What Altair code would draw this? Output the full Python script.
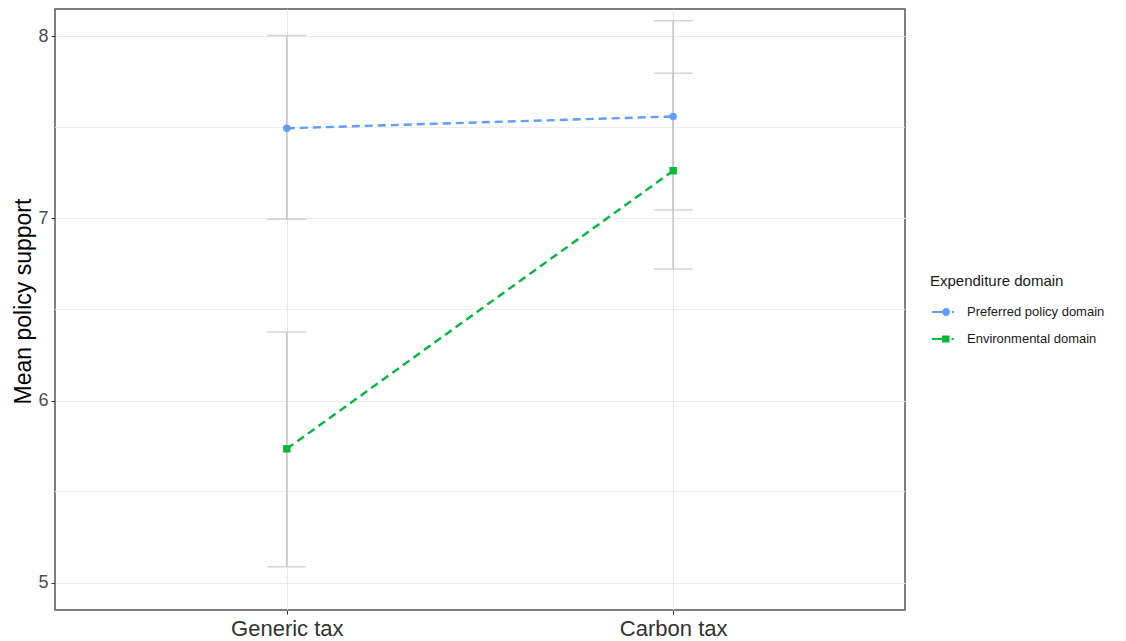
import altair as alt
import pandas as pd

tax_types = ["Generic tax", "Carbon tax"]
domains = ["Preferred policy domain", "Environmental domain"]
pref_mean = [7.495, 7.56]
pref_low = [6.995, 7.046]
pref_high = [8.005, 8.085]
env_mean = [5.735, 7.262]
env_low = [5.088, 6.722]
env_high = [6.377, 7.797]
major_y = [5, 6, 7, 8]
minor_y = [5.5, 6.5, 7.5]
colors = ["#619CFF", "#00BA38"]

rows = []
for i, t in enumerate(tax_types):
    rows.append({"tax": t, "domain": domains[0], "mean": pref_mean[i], "low": pref_low[i], "high": pref_high[i]})
    rows.append({"tax": t, "domain": domains[1], "mean": env_mean[i], "low": env_low[i], "high": env_high[i]})
df = pd.DataFrame(rows)
minor_df = pd.DataFrame({"y": minor_y})

FONT = "Liberation Sans"
W, H = 850, 601

xs = alt.Scale(type="point", domain=tax_types, padding=0.6)
ys = alt.Scale(domain=[4.85, 8.15], nice=False, zero=False)
# reversed order for the legend-less channels so they do not merge with the shown legend
hidden_scale = alt.Scale(domain=domains[::-1], range=colors[::-1])

x_enc = alt.X("tax:N", scale=xs, sort=tax_types,
              axis=alt.Axis(title=None, labelFontSize=22, labelColor="#333333", labelFont=FONT,
                            tickColor="#333333", tickSize=4, labelPadding=4, domain=False,
                            grid=True, gridColor="#ebebeb", gridWidth=1, labelAngle=0))
y_axis = alt.Axis(title="Mean policy support", titleFontSize=23, titleFont=FONT, titleColor="#000000",
                  titleFontWeight="normal", values=major_y, format="d", labelFontSize=18,
                  labelColor="#4d4d4d", labelFont=FONT, tickColor="#333333", tickSize=4,
                  labelPadding=3, domain=False, grid=True, gridColor="#ebebeb", gridWidth=1,
                  titleX=-32, titleY=292, titleAlign="center", titleBaseline="middle", titleAngle=270)

base = alt.Chart(df)

minor = alt.Chart(minor_df).mark_rule(color="#ebebeb", strokeWidth=1).encode(
    y=alt.Y("y:Q", scale=ys, axis=y_axis)
)

err = base.mark_rule(color="#c4c4c4", strokeWidth=1.5).encode(
    x=x_enc,
    y=alt.Y("low:Q", scale=ys, axis=y_axis),
    y2="high:Q",
)
caps_low = base.mark_tick(color="#c4c4c4", thickness=1.5, size=39, orient="horizontal").encode(
    x=alt.X("tax:N", scale=xs, sort=tax_types),
    y=alt.Y("low:Q", scale=ys),
)
caps_high = base.mark_tick(color="#c4c4c4", thickness=1.5, size=39, orient="horizontal").encode(
    x=alt.X("tax:N", scale=xs, sort=tax_types),
    y=alt.Y("high:Q", scale=ys),
)

lines = base.mark_line(strokeWidth=2.4, strokeDash=[8, 5]).encode(
    x=alt.X("tax:N", scale=xs, sort=tax_types),
    y=alt.Y("mean:Q", scale=ys),
    stroke=alt.Stroke("domain:N", scale=hidden_scale, legend=None),
    detail="domain:N",
)

pts_circle = base.transform_filter(alt.datum.domain == domains[0]).mark_point(
    shape="circle", filled=True, size=55, opacity=1, strokeWidth=0).encode(
    x=alt.X("tax:N", scale=xs, sort=tax_types),
    y=alt.Y("mean:Q", scale=ys),
    fill=alt.Fill("domain:N", scale=hidden_scale, legend=None),
)
pts_square = base.transform_filter(alt.datum.domain == domains[1]).mark_point(
    shape="square", filled=True, size=55, opacity=1, strokeWidth=0).encode(
    x=alt.X("tax:N", scale=xs, sort=tax_types),
    y=alt.Y("mean:Q", scale=ys),
    fill=alt.Fill("domain:N", scale=hidden_scale, legend=None),
)

path_circle = ("M-1,-0.09H-0.16V0.09H-1Z "
               "M0.5,0A0.33,0.33 0 1,1 -0.16,0A0.33,0.33 0 1,1 0.5,0Z "
               "M0.66,-0.09H0.84V0.09H0.66Z")
path_square = ("M-1,-0.09H-0.16V0.09H-1Z "
               "M-0.16,-0.3H0.46V0.3H-0.16Z "
               "M0.62,-0.09H0.8V0.09H0.62Z")

leg = alt.Legend(title="Expenditure domain", orient="none", legendX=875, legendY=265,
                 titleFontSize=15, titleFont=FONT, titleColor="#1a1a1a", titleFontWeight="normal",
                 labelFontSize=13, labelFont=FONT, labelColor="#1a1a1a", symbolSize=576,
                 symbolOpacity=1, symbolStrokeWidth=0, labelOffset=11, rowPadding=8,
                 titlePadding=11, padding=0, symbolOffset=2)

legend_layer = base.mark_point(filled=True, opacity=0).encode(
    x=alt.X("tax:N", scale=xs, sort=tax_types),
    y=alt.Y("mean:Q", scale=ys),
    color=alt.Color("domain:N", scale=alt.Scale(domain=domains, range=colors), legend=leg),
    shape=alt.Shape("domain:N", scale=alt.Scale(domain=domains, range=[path_circle, path_square]), legend=leg),
)

chart = alt.layer(minor, err, caps_low, caps_high, lines, pts_circle, pts_square, legend_layer).properties(
    width=W, height=H,
    autosize=alt.AutoSizeParams(type="none"),
    padding={"left": 47, "top": 1, "right": 213, "bottom": 31},
    view=alt.ViewBackground(stroke="#555555", strokeWidth=1.5),
).configure_view(stroke="#555555", strokeWidth=1.5).configure(background="white")

chart.save("out.html", embed_options={"renderer": "svg", "actions": False})
